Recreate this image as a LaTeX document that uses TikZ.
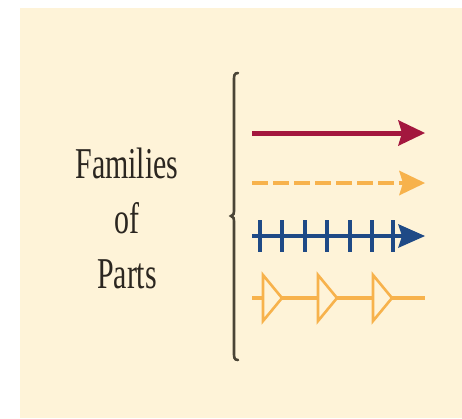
\documentclass[tikz,border=0pt]{standalone}
\usepackage{fontspec}
\setmainfont{Liberation Serif}
\newfontfamily\condserif[FakeStretch=0.68]{Liberation Serif}
\usetikzlibrary{arrows.meta}
\definecolor{cream}{HTML}{FEF3D8}
\definecolor{bracecol}{HTML}{4A4436}
\definecolor{famred}{HTML}{A3173E}
\definecolor{famorange}{HTML}{F7B24C}
\definecolor{famblue}{HTML}{1F4A86}
\definecolor{textcol}{HTML}{2B2620}
\begin{document}
\begin{tikzpicture}[x=1pt,y=-1pt,
  family/.style={line width=4pt},
  tri/.style={draw=famorange,fill=cream,line width=2.6pt,line join=miter}]
\useasboundingbox (0,0) rectangle (462,418);
\fill[white] (0,0) rectangle (462,418);
\fill[cream] (20,8) rectangle (462,418);
% label
\node[font=\condserif\fontsize{44}{55}\selectfont,text=textcol,align=center,inner sep=0pt] (label) at (127,218) {Families\\of\\Parts};
% brace
\coordinate (btop) at (238,73);
\coordinate (bbot) at (238,360);
\draw[bracecol,line width=2.6pt,line cap=round]
  (btop) .. controls (234,73) and (234,76) .. (234,80)
  -- (234,211) .. controls (234,214) .. (231,216) .. controls (234,218) .. (234,221)
  -- (234,353) .. controls (234,357) and (234,360) .. (bbot);
% red solid arrow
\coordinate (r0) at (252,133); \coordinate (r1) at (425,133);
\draw[famred,line width=5pt,-{Stealth[length=27pt,width=26pt,inset=4pt,line width=0pt]}] (r0) -- (r1);
% orange dashed arrow
\coordinate (o0) at (252,183); \coordinate (o1) at (425,183);
\draw[famorange,family,dash pattern=on 16pt off 5pt,-{Stealth[length=26pt,width=25pt,inset=4pt,line width=0pt]}] (o0) -- (o1);
% blue plus arrow
\coordinate (b0) at (252,236); \coordinate (b1) at (425,236);
\draw[famblue,family,-{Stealth[length=27pt,width=24pt,inset=4pt,line width=0pt]}] (b0) -- (b1);
\foreach \px in {260,282,305,327,350,372,393}
  \draw[famblue,line width=3.2pt] (\px,220) -- (\px,252);
% orange triangle line
\coordinate (t0) at (252,298); \coordinate (t1) at (425,298);
\draw[famorange,line width=4pt] (t0) -- (t1);
\foreach \tx in {263,318,373}
  \draw[tri] (\tx,275) -- (\tx+19,298) -- (\tx,321) -- cycle;
\end{tikzpicture}
\end{document}
